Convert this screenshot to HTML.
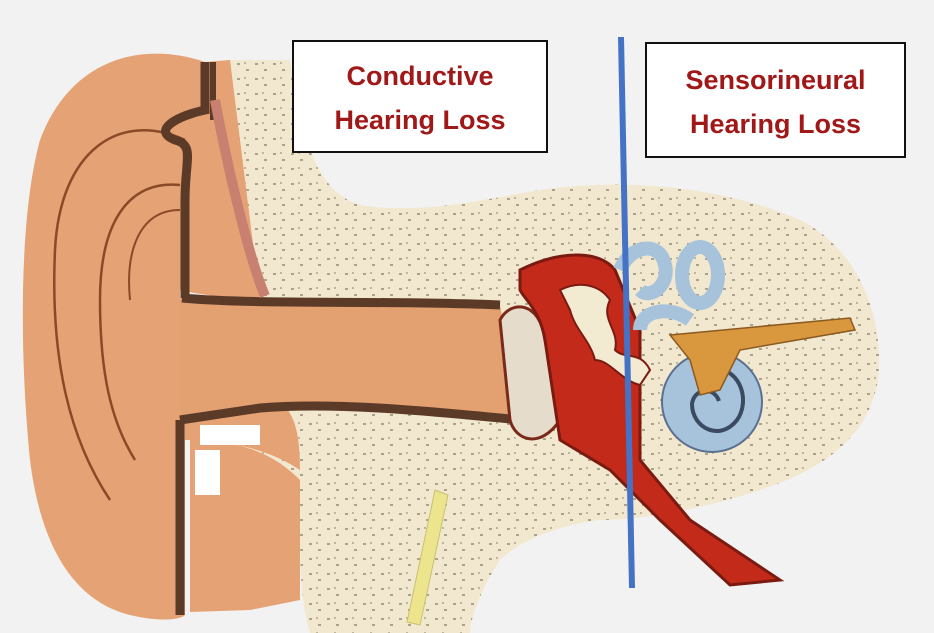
<!DOCTYPE html>
<html><head><meta charset="utf-8"><style>
html,body{margin:0;padding:0;background:#f2f2f2;}
.box{position:absolute;background:#fff;border:2px solid #111;box-sizing:border-box;color:#a01818;font:bold 27px "Liberation Sans",sans-serif;text-align:center;line-height:44px;}
</style></head><body>
<div style="position:relative;width:934px;height:633px;overflow:hidden;background:#f2f2f2">
<svg width="934" height="633" viewBox="0 0 934 633" style="position:absolute;left:0;top:0">
<defs>
<pattern id="dots" width="18" height="15" patternUnits="userSpaceOnUse">
<rect width="18" height="15" fill="#f2e8cf"/>
<rect x="3" y="3" width="3" height="2" fill="#aaa28a"/>
<rect x="12" y="9" width="3" height="2" fill="#aaa28a"/>
<rect x="10" y="2" width="2" height="2" fill="#bdb59c"/>
</pattern>
</defs>
<path d="M230,60 L290,60 C300,120 310,190 360,205 C420,215 480,200 540,190 C620,178 720,185 800,220 C860,250 885,320 878,380 C868,440 820,470 760,490 C700,510 640,520 600,520 C560,525 520,540 500,560 C480,590 470,620 470,633 L310,633 C300,600 300,560 300,520 L230,420 Z" fill="url(#dots)"/>
<path d="M205,62 C140,40 70,60 40,140 C18,220 20,360 30,460 C40,540 70,600 130,615 C160,622 180,620 185,615 L185,440 C230,440 270,450 300,470 C300,420 290,400 260,395 L180,395 L180,290 C200,295 230,298 260,300 L230,60 Z" fill="#e5a274"/>
<path d="M190,440 C250,440 280,460 300,480 L300,600 L250,610 L190,612 Z" fill="#e5a274"/>
<path d="M185,140 C120,110 60,150 55,250 C50,360 70,440 110,500" fill="none" stroke="#8a4a2a" stroke-width="2.5"/>
<path d="M180,185 C130,180 100,220 100,300 C100,370 110,420 135,460" fill="none" stroke="#8a4a2a" stroke-width="2.5"/>
<path d="M180,210 C140,210 125,250 130,300" fill="none" stroke="#8a4a2a" stroke-width="2"/>
<path d="M180,298 C260,305 380,300 500,305 L520,420 C420,410 330,400 260,405 L180,420 Z" fill="#e3a071"/>
<path d="M182,298 C260,305 380,300 500,305" fill="none" stroke="#5c3a28" stroke-width="9"/>
<path d="M180,420 L260,408 C330,402 420,410 520,420" fill="none" stroke="#5c3a28" stroke-width="9"/>
<path d="M205,62 L205,110 C180,115 150,130 175,140 C195,145 185,160 185,200 L185,298" fill="none" stroke="#5c3a28" stroke-width="9"/>
<path d="M213,62 L213,120" fill="none" stroke="#5c3a28" stroke-width="6"/>
<path d="M180,420 L180,615" fill="none" stroke="#5c3a28" stroke-width="9"/>
<path d="M215,100 C230,180 250,260 265,296" fill="none" stroke="#c88070" stroke-width="10"/>
<rect x="200" y="425" width="60" height="20" fill="#fff"/>
<rect x="195" y="450" width="25" height="45" fill="#fff"/>
<path d="M435,490 L448,495 L420,625 L407,622 Z" fill="#ece58e" stroke="#c8c070" stroke-width="1"/>
<path d="M500,320 C510,300 540,300 545,340 L560,420 C540,450 515,440 510,420 Z" fill="#e6dccb" stroke="#7a2a1a" stroke-width="3"/>
<path d="M520,270 C560,250 600,250 615,270 L640,330 L640,460 L690,520 L780,580 L730,585 L660,520 L610,470 L560,440 L545,340 C540,310 525,300 520,290 Z" fill="#c42a1a" stroke="#7a1a10" stroke-width="3"/>
<path d="M560,290 C580,280 600,285 610,300 C600,320 620,330 615,350 C625,360 640,350 650,370 L640,385 C620,380 610,360 595,360 C590,340 575,330 570,310 Z" fill="#f3ead2" stroke="#7a1a10" stroke-width="2"/>
<path d="M620,270 C630,245 660,240 665,265 C670,285 650,300 640,290" fill="none" stroke="#a7c3dc" stroke-width="14"/>
<ellipse cx="700" cy="275" rx="18" ry="28" fill="none" stroke="#a7c3dc" stroke-width="14"/>
<path d="M640,330 C640,310 670,305 690,320" fill="none" stroke="#a7c3dc" stroke-width="14"/>
<circle cx="712" cy="402" r="50" fill="#a7c3dc" stroke="#5a7090" stroke-width="2"/>
<path d="M712,368 C742,368 750,402 737,420 C720,442 692,428 692,404 C694,388 714,386 719,401" fill="none" stroke="#3a4a60" stroke-width="4"/>
<path d="M670,335 L850,318 L855,330 L740,350 L720,390 L700,395 L690,360 Z" fill="#d9973e" stroke="#8a5a20" stroke-width="1.5"/>
<line x1="621" y1="37" x2="632" y2="588" stroke="#4472c4" stroke-width="6"/>
</svg>
<div class="box" style="left:292px;top:40px;width:256px;height:113px;padding-top:12px">Conductive<br>Hearing Loss</div>
<div class="box" style="left:645px;top:42px;width:261px;height:116px;padding-top:14px">Sensorineural<br>Hearing Loss</div>
</div>
</body></html>
